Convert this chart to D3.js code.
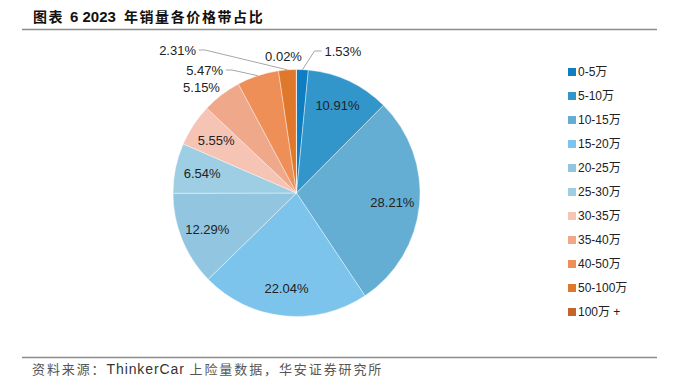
<!DOCTYPE html>
<html>
<head>
<meta charset="utf-8">
<script src="https://cdn.jsdelivr.net/npm/d3@7"></script>
<style>
  body { margin: 0; background: #fff; }
  svg { display: block; }
</style>
</head>
<body>
<svg id="chart"></svg>
<script>
const width = 676;
const height = 381;

const categories = ['0-5万', '5-10万', '10-15万', '15-20万', '20-25万', '25-30万',
                    '30-35万', '35-40万', '40-50万', '50-100万', '100万 +'];
const shares = [1.53, 10.91, 28.21, 22.04, 12.29, 6.54, 5.55, 5.15, 5.47, 2.31, 0.02];
const colors = ['#0f7ec1', '#3296cb', '#64aed3', '#7cc4eb', '#92c6e0', '#9ecee3',
                '#f6c4b5', '#f0a88a', '#ee8f58', '#e0782c', '#c4662c'];

const cx = 296.5, cy = 193, radius = 123.5;

const svg = d3.select('#chart')
            .attr('width', width)
            .attr('height', height);

// title + rules
const title = svg.append('text')
    .attr('x', 33).attr('y', 22)
    .attr('font-family', '"Noto Sans CJK SC", sans-serif')
    .attr('font-weight', 'bold')
    .attr('font-size', 14)
    .attr('fill', '#111');
title.append('tspan').attr('letter-spacing', 1.5).text('图表');
title.append('tspan').attr('dx', 6)
    .attr('font-family', '"Liberation Sans", Arial, sans-serif')
    .attr('font-size', 15)
    .text('6 2023');
title.append('tspan').attr('dx', 8).attr('letter-spacing', 1.6).text('年销量各价格带占比');

svg.append('line').attr('x1', 22).attr('x2', 657).attr('y1', 29.5).attr('y2', 29.5)
    .attr('stroke', '#8c8c8c').attr('stroke-width', 1.5);
svg.append('line').attr('x1', 22).attr('x2', 657).attr('y1', 357.5).attr('y2', 357.5)
    .attr('stroke', '#8c8c8c').attr('stroke-width', 1.5);

const source = svg.append('text')
    .attr('x', 32).attr('y', 374)
    .attr('font-family', '"Noto Sans CJK SC", sans-serif')
    .attr('font-size', 13)
    .attr('letter-spacing', 1.9)
    .attr('fill', '#555');
source.append('tspan').text('资料来源：');
source.append('tspan')
    .attr('font-family', '"Liberation Sans", Arial, sans-serif')
    .attr('font-size', 14).attr('letter-spacing', 0.9).attr('fill', '#333')
    .text('ThinkerCar ');
source.append('tspan').text('上险量数据，华安证券研究所');

// pie
const pie = d3.pie().sort(null).value(d => d);
const arcs = pie(shares);
const arc = d3.arc().innerRadius(0).outerRadius(radius);
const labelArc = d3.arc().innerRadius(radius * 0.78).outerRadius(radius * 0.78);

const g = svg.append('g').attr('transform', `translate(${cx},${cy})`);

g.selectAll('path').data(arcs).enter().append('path')
    .attr('d', arc)
    .attr('fill', (d, i) => colors[i])
    .attr('stroke', '#fff')
    .attr('stroke-width', 0.4);

// labels: inside ones on the centroid, the small top slices pulled out
const outside = {
    0: {elbow: [18, -142], end: [25, -142], anchor: 'start', leader: true},
    7: {text: [-95, -106], leader: false},
    8: {elbow: [-64.5, -123], end: [-70.5, -123], anchor: 'end', leader: true},
    9: {elbow: [-91.5, -143], end: [-97.5, -143], anchor: 'end', leader: true},
    10: {text: [-13, -137], leader: false}
};

const fmt = v => v.toFixed(2) + '%';
const lbl = g.append('g')
    .attr('font-family', '"Liberation Sans", Arial, sans-serif')
    .attr('font-size', 13)
    .attr('fill', '#222');

arcs.forEach((d, i) => {
    const o = outside[i];
    if (!o) {
        const [x, y] = labelArc.centroid(d);
        lbl.append('text').attr('x', x).attr('y', y).attr('dy', '0.35em')
            .attr('text-anchor', 'middle').text(fmt(shares[i]));
    } else if (!o.leader) {
        lbl.append('text').attr('x', o.text[0]).attr('y', o.text[1]).attr('dy', '0.35em')
            .attr('text-anchor', 'middle').text(fmt(shares[i]));
    } else {
        const a = (d.startAngle + d.endAngle) / 2;
        const p0 = [Math.sin(a) * radius, -Math.cos(a) * radius];
        lbl.append('polyline')
            .attr('points', [p0, o.elbow, o.end].map(p => p.join(',')).join(' '))
            .attr('fill', 'none').attr('stroke', '#a6a6a6').attr('stroke-width', 1);
        lbl.append('text')
            .attr('x', o.end[0] + (o.anchor === 'start' ? 3 : -3))
            .attr('y', o.end[1]).attr('dy', '0.35em')
            .attr('text-anchor', o.anchor).text(fmt(shares[i]));
    }
});

// legend
const legend = svg.append('g').attr('transform', 'translate(568, 72)');
const row = legend.selectAll('g').data(categories).enter().append('g')
    .attr('transform', (d, i) => `translate(0, ${i * 24})`);
row.append('rect').attr('x', 0).attr('y', -4).attr('width', 8).attr('height', 8)
    .attr('fill', (d, i) => colors[i]);
row.append('text').attr('x', 10).attr('y', 0).attr('dy', '0.35em')
    .attr('font-family', '"Liberation Sans", Arial, "Noto Sans CJK SC", sans-serif')
    .attr('font-size', 12)
    .attr('fill', '#222')
    .text(d => d);
</script>
</body>
</html>
